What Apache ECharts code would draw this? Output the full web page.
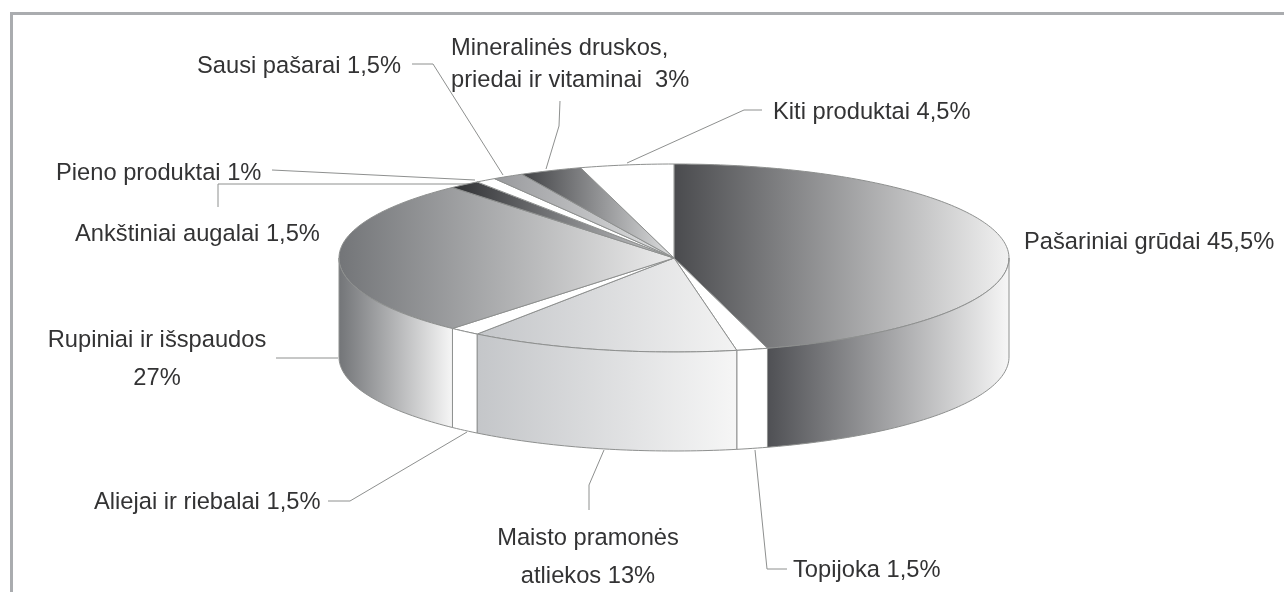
<!DOCTYPE html>
<html>
<head>
<meta charset="utf-8">
<style>
html, body { margin: 0; padding: 0; background: #fff; }
#chart { width: 1284px; height: 592px; }
</style>
<script src="https://cdn.jsdelivr.net/npm/echarts@6/dist/echarts.min.js"></script>
</head>
<body>
<div id="chart"></div>
<script>
// shares in percent, clockwise from 12 o'clock
const names = ['Pašariniai grūdai', 'Topijoka', 'Maisto pramonės atliekos', 'Aliejai ir riebalai', 'Rupiniai ir išspaudos',
    'Ankštiniai augalai', 'Pieno produktai', 'Sausi pašarai', 'Mineralinės druskos, priedai ir vitaminai', 'Kiti produktai']
const shares = [45.5, 1.5, 13, 1.5, 27, 1.5, 1, 1.5, 3, 4.5]
const labels = ['Pašariniai grūdai 45,5%', 'Topijoka 1,5%', 'Maisto pramonės\natliekos 13%', 'Aliejai ir riebalai 1,5%', 'Rupiniai ir išspaudos\n27%',
    'Ankštiniai augalai 1,5%', 'Pieno produktai 1%', 'Sausi pašarai 1,5%', 'Mineralinės druskos,\npriedai ir vitaminai  3%', 'Kiti produktai 4,5%']

// [left colour, right colour] of the horizontal gradient of each slice
const topColors = [['#4a4b4e', '#f1f1f1'], ['#fff', '#fff'], ['#c4c6c9', '#f3f3f3'], ['#fff', '#fff'], ['#737578', '#ececec'],
    ['#2f3033', '#c9cacc'], ['#fff', '#fff'], ['#98999c', '#e2e3e4'], ['#414245', '#dfe0e1'], ['#fff', '#fff']]
const wallColors = [['#4f5054', '#f6f6f6'], ['#fff', '#fff'], ['#c4c6c9', '#f6f6f6'], ['#fff', '#fff'], ['#737578', '#f6f6f6']]

const cx = 674, cy = 258, rx = 335, ry = 94, depth = 99
const lineColor = '#8e908f'
const textColor = '#333334'

// label anchor: x, y, align
const labelPos = [[1024, 242, 'left'], [793, 570, 'left'], [588, 557, 'center'], [94, 502, 'left'], [157, 359, 'center'],
    [75, 234, 'left'], [56, 173, 'left'], [197, 66, 'left'], [451, 64, 'left'], [773, 112, 'left']]
const labelLineHeight = [0, 0, 38, 0, 38, 0, 0, 0, 32, 0]

const leaders = [
    [[762, 110], [744, 110], [627, 163]],
    [[560, 101], [559, 126], [546, 169]],
    [[412, 64], [433, 64], [503, 175]],
    [[272, 170], [475, 180]],
    [[218, 207], [218, 184], [477, 184]],
    [[276, 358], [338, 358]],
    [[328, 501], [350, 501], [467, 432]],
    [[589, 510], [589, 485], [604, 450]],
    [[787, 569], [767, 569], [755, 450]]
]

const edge = function (deg) {
    const a = deg * Math.PI / 180
    return [cx + rx * Math.sin(a), cy - ry * Math.cos(a)]
}
const arc = function (from, to) {
    const pts = []
    const n = Math.max(2, Math.ceil(to - from))
    for (let i = 0; i <= n; i++) pts.push(edge(from + (to - from) * i / n))
    return pts
}
const gradient = function (x0, x1, c) {
    return { type: 'linear', x: x0, y: 0, x2: x1, y2: 0, global: true, colorStops: [{ offset: 0, color: c[0] }, { offset: 1, color: c[1] }] }
}

const renderSlice = function (params, api) {
    const i = params.dataIndex
    const from = api.value(0) * 3.6
    const to = api.value(1) * 3.6
    const children = []
    const topPts = arc(from, to)
    const xs = topPts.map(p => p[0]).concat(cx)
    children.push({
        type: 'polygon',
        shape: { points: topPts.concat([[cx, cy]]) },
        style: { fill: gradient(Math.min(...xs), Math.max(...xs), topColors[i]), stroke: lineColor, lineWidth: 1 }
    })
    // only the front half of the rim is visible
    const a = Math.max(from, 90), b = Math.min(to, 270)
    if (a < b) {
        const rim = arc(a, b)
        const low = rim.slice().reverse().map(p => [p[0], p[1] + depth])
        const rimX = rim.map(p => p[0])
        children.push({
            type: 'polygon',
            shape: { points: rim.concat(low) },
            style: { fill: gradient(Math.min(...rimX), Math.max(...rimX), wallColors[i]), stroke: lineColor, lineWidth: 1 }
        })
    }
    return { type: 'group', children }
}

let sum = 0
const sliceData = shares.map((v, i) => {
    const start = sum
    sum += v
    return { name: names[i], value: [start, sum] }
})

const graphics = [
    { type: 'rect', shape: { x: 10, y: 12, width: 1274, height: 3 }, style: { fill: '#aaacaf' } },
    { type: 'rect', shape: { x: 10, y: 12, width: 3, height: 580 }, style: { fill: '#aaacaf' } }
]
leaders.forEach(points => {
    graphics.push({ type: 'polyline', shape: { points }, style: { stroke: lineColor, lineWidth: 1, fill: null } })
})
labels.forEach((text, i) => {
    graphics.push({
        type: 'text',
        x: labelPos[i][0],
        y: labelPos[i][1],
        style: {
            text,
            fill: textColor,
            font: '23.7px "Liberation Sans", Arial, sans-serif',
            align: labelPos[i][2],
            verticalAlign: 'middle',
            lineHeight: labelLineHeight[i] || 28
        }
    })
})

const chart = echarts.init(document.getElementById('chart'), null, { renderer: 'canvas' })
chart.setOption({
    animation: false,
    backgroundColor: '#fff',
    graphic: graphics,
    series: [{
        type: 'custom',
        coordinateSystem: 'none',
        renderItem: renderSlice,
        data: sliceData
    }]
})
</script>
</body>
</html>
